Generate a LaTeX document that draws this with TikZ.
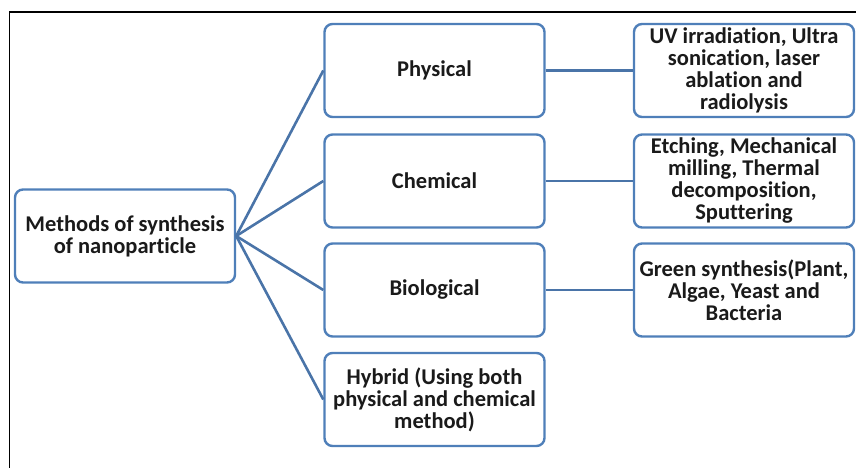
\documentclass[tikz,border=0pt]{standalone}
\usepackage{fontspec}
\setmainfont{Carlito}[Ligatures=NoCommon]
\usepackage{tikz}
\usetikzlibrary{positioning}

\definecolor{boxblue}{HTML}{4F7FB9}
\definecolor{linkblue}{HTML}{4A74A8}
\definecolor{textgray}{HTML}{1A1A1A}

\tikzset{
  methodbox/.style={rectangle, rounded corners=8pt, draw=boxblue, line width=2.4pt, fill=white,
    minimum width=220pt, minimum height=93pt, align=center, text=textgray, inner sep=2pt,
    font=\bfseries\fontsize{22.5}{22}\selectfont},
  link/.style={draw=linkblue, line width=2.6pt}
}

\begin{document}
\begin{tikzpicture}[x=1pt, y=-1pt]
                  \useasboundingbox (0,0) rectangle (856,468);
                  % Frame
                  \draw[black, line width=1.2pt] (9.5,468) -- (9.5,12) -- (856,12);

                  % Nodes
                  \node[methodbox] (root) at (125,236) {Methods of synthesis\\of nanoparticle};
                  \foreach \n/\y/\t in {physical/70.5/Physical, chemical/181/Chemical, biological/290/Biological}
                  \node[methodbox] (\n) at (434.5,\y) {\t};
                  \node[methodbox] (hybrid) at (434.5,399.5) {Hybrid (Using both\\physical and chemical\\method)};
                  \node[methodbox] (physicaldetail) at (744,70.5) {UV irradiation, Ultra\\sonication, laser\\ablation and\\radiolysis};
                  \node[methodbox] (chemicaldetail) at (744,181) {Etching, Mechanical\\milling, Thermal\\decomposition,\\Sputtering};
                  \node[methodbox] (biologicaldetail) at (744,290) {Green synthesis(Plant,\\Algae, Yeast and\\Bacteria};

                  % Lines
                  \foreach \n in {physical,chemical,biological,hybrid}
                  \draw[link] (root.east) -- (\n.west);
                  \foreach \n in {physical,chemical,biological}
                  \draw[link] (\n.east) -- (\n detail.west);
              \end{tikzpicture}
\end{document}
